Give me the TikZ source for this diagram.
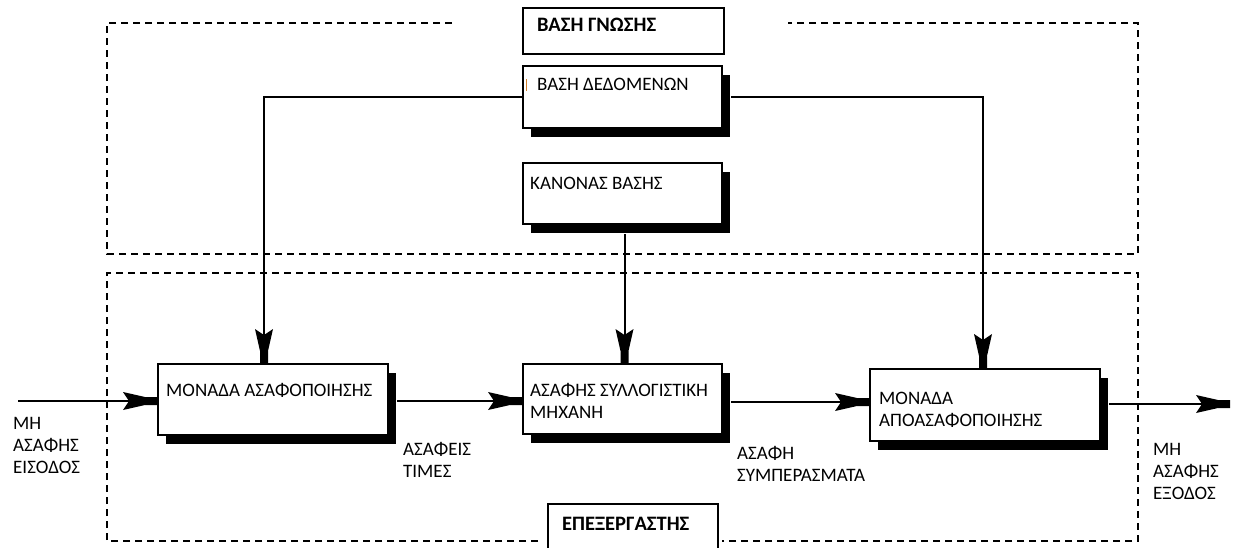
\documentclass[tikz,border=0pt]{standalone}
\usepackage{fontspec}
\setmainfont{Carlito}
\usetikzlibrary{arrows.meta,shadows,calc,positioning}

\tikzset{
  unit/.style={draw, fill=white, line width=2pt, anchor=north west, inner sep=0pt,
    drop shadow={shadow xshift=8pt, shadow yshift=-9pt, fill=black, opacity=1}},
  titlebox/.style={draw, fill=white, line width=2pt, anchor=north west, inner sep=0pt},
  txt/.style={anchor=north west, inner sep=0pt, align=left, font=\fontsize{19}{22}\selectfont},
  head/.style={txt, font=\bfseries\fontsize{20.5}{22}\selectfont},
  zone/.style={line width=2pt, dash pattern=on 7pt off 5pt},
  flow/.style={line width=2pt},
  pics/barb/.style={code={
    \fill (0,-4) -- (0,4) -- (-12,4) -- (-34,9) -- (-28,0) -- (-34,-9) -- (-12,-4) -- cycle;}}
}

\begin{document}
\begin{tikzpicture}[x=1pt,y=-1pt]
  \clip (0,0) rectangle (1239,547);
  % Knowledge base frame
  \draw[zone] (452,23) -- (107,23) -- (107,254) -- (1138,254) -- (1138,23) -- (788,23);
  \node[titlebox, minimum width=201, minimum height=46] (kb) at (522,7) {};
  \node[head] (kbtext) at ($(kb.north west)+(15,11)$) {ΒΑΣΗ ΓΝΩΣΗΣ};
  % Processor frame
  \draw[zone] (538,541) -- (107,541) -- (107,273) -- (1138,273) -- (1138,541) -- (722,541);
  \node[titlebox, minimum width=170, minimum height=50] (proc) at (547,503) {};
  \node[head] (proctext) at ($(proc.north west)+(15,14)$) {ΕΠΕΞΕΡΓΑΣΤΗΣ};

  % Data base and rule base
  \node[unit, minimum width=199, minimum height=62] (db) at (522,65) {};
  \node[txt] (dbtext) at ($(db.north west)+(15,13)$) {ΒΑΣΗ ΔΕΔΟΜΕΝΩΝ};
  \draw[brown!70!orange, line width=1pt] ($(db.north west)+(4,14)$) -- ++(0,12);
  \node[unit, minimum width=199, minimum height=61] (rb) at (522,162) {};
  \node[txt] (rbtext) at ($(rb.north west)+(8,15)$) {ΚΑΝΟΝΑΣ ΒΑΣΗΣ};

  % Processing units
  \node[unit, minimum width=230, minimum height=71] (fuz) at (157,363) {};
  \node[txt] (fuztext) at ($(fuz.north west)+(9,20)$) {ΜΟΝΑΔΑ ΑΣΑΦΟΠΟΙΗΣΗΣ};
  \node[unit, minimum width=199, minimum height=70] (inf) at (522,363) {};
  \node[txt] (inftext) at ($(inf.north west)+(8,20)$) {ΑΣΑΦΗΣ ΣΥΛΛΟΓΙΣΤΙΚΗ\\ΜΗΧΑΝΗ};
  \node[unit, minimum width=230, minimum height=72] (def) at (869,368) {};
  \node[txt] (deftext) at ($(def.north west)+(10,24)$) {ΜΟΝΑΔΑ\\ΑΠΟΑΣΑΦΟΠΟΙΗΣΗΣ};

  % Signal labels
  \node[txt] (inlab) at (13,417) {ΜΗ\\ΑΣΑΦΗΣ\\ΕΙΣΟΔΟΣ};
  \node[txt] (vals) at (403,442) {ΑΣΑΦΕΙΣ\\ΤΙΜΕΣ};
  \node[txt] (concl) at (737,446) {ΑΣΑΦΗ\\ΣΥΜΠΕΡΑΣΜΑΤΑ};
  \node[txt] (outlab) at (1153,443) {ΜΗ\\ΑΣΑΦΗΣ\\ΕΞΟΔΟΣ};

  % Connectors
  \coordinate (in) at (18,401);
  \coordinate (out) at (1230,404);
  \draw[flow] (in) -- (in -| fuz.west);
  \draw[flow] ($(fuz.east |- in)+(8,0)$) -- (in -| inf.west);
  \draw[flow] ($(inf.east |- in)+(8,1)$) -- ($(def.west |- in)+(0,1)$);
  \draw[flow] ($(def.east |- out)+(8,0)$) -- (out);
  \draw[flow] (db.west) -| ($(fuz.north)+(-9,0)$);
  \draw[flow] ($(db.east)+(8,0)$) -| ($(def.north)+(-2,0)$);
  \draw[flow] ($(rb.south)+(2,9)$) -- ($(inf.north)+(2,0)$);
  % Arrow heads
  \pic at (in -| fuz.west) {barb};
  \pic at (in -| inf.west) {barb};
  \pic at ($(def.west |- in)+(0,1)$) {barb};
  \pic at (out) {barb};
  \pic[rotate=-90] at ($(fuz.north)+(-9,0)$) {barb};
  \pic[rotate=-90] at ($(inf.north)+(2,0)$) {barb};
  \pic[rotate=-90] at ($(def.north)+(-2,0)$) {barb};
\end{tikzpicture}
\end{document}
